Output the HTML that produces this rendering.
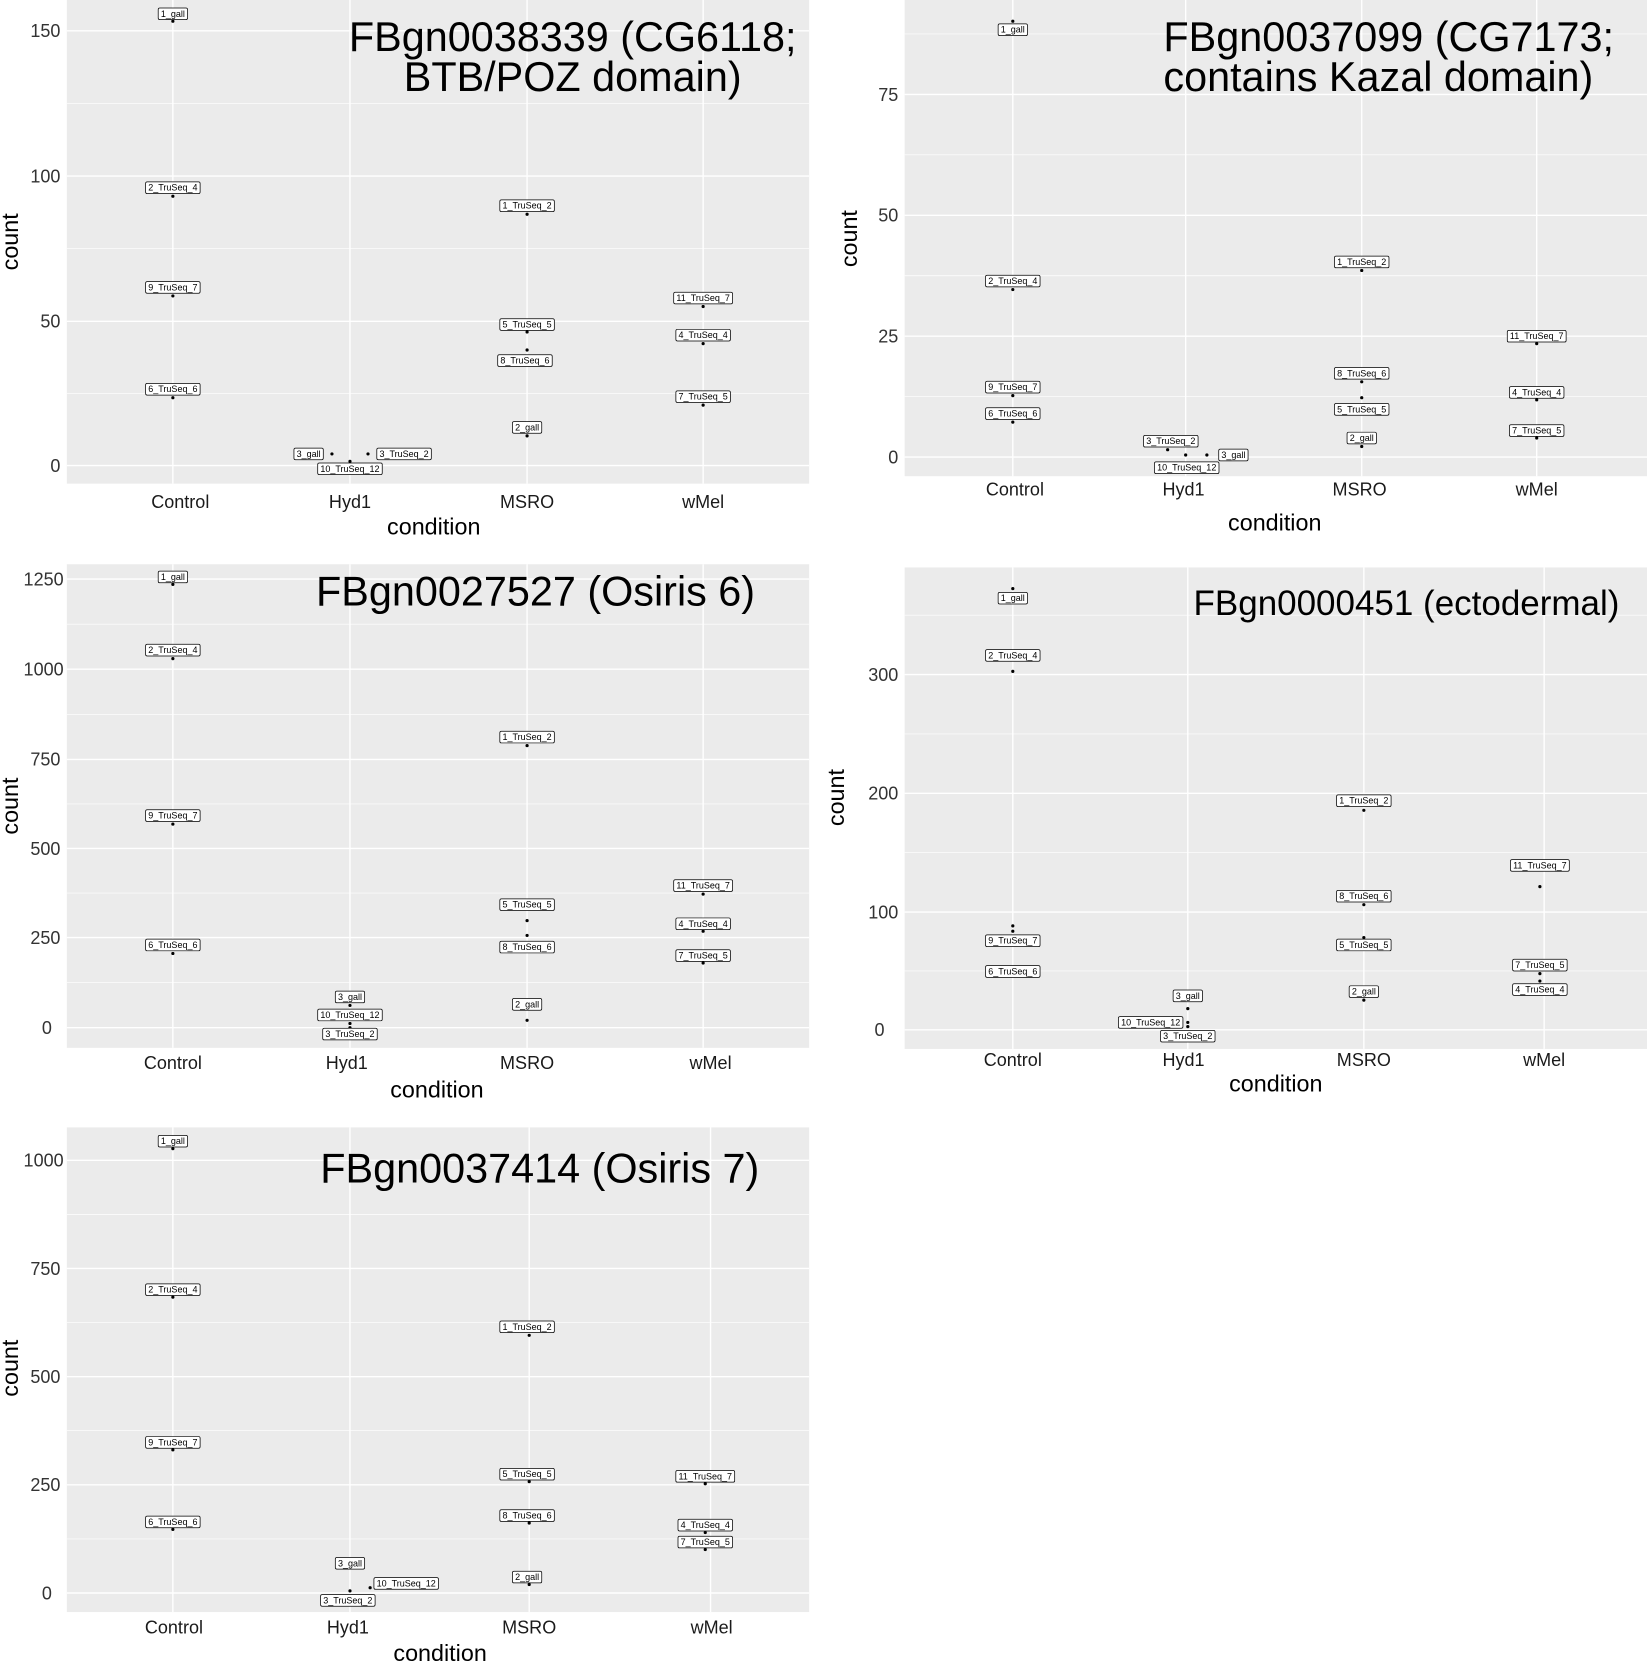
<!DOCTYPE html>
<html><head><meta charset="utf-8"><style>
html,body{margin:0;padding:0;background:#fff;}
svg{display:block;font-family:"Liberation Sans",Arial,sans-serif;}
.bg{fill:#ebebeb}
.mj{stroke:#fff;stroke-width:1.3}
.mn{stroke:#fff;stroke-width:0.6}
.tk{font-size:17px;fill:#333;text-anchor:end}
.tkx{font-size:17px;fill:#1a1a1a;text-anchor:middle}
.ax{font-size:22px;fill:#000;text-anchor:middle}
.ti{font-size:39px;fill:#000;text-anchor:end}
.lb{font-size:8.5px;fill:#000;text-anchor:middle;dominant-baseline:central}
.pt{fill:#000}
</style></head><body>
<svg id="s" width="1647" height="1663" viewBox="0 0 1553 1568" preserveAspectRatio="none">
<!-- Panel 1 -->
<rect class="bg" x="63" y="0" width="700" height="456"/>
<g class="mn"><line x1="63" x2="763" y1="97.5" y2="97.5"/><line x1="63" x2="763" y1="234.5" y2="234.5"/><line x1="63" x2="763" y1="371" y2="371"/></g>
<g class="mj"><line x1="63" x2="763" y1="29" y2="29"/><line x1="63" x2="763" y1="166" y2="166"/><line x1="63" x2="763" y1="303" y2="303"/><line x1="63" x2="763" y1="439" y2="439"/>
<line x1="163" x2="163" y1="0" y2="456"/><line x1="330" x2="330" y1="0" y2="456"/><line x1="497" x2="497" y1="0" y2="456"/><line x1="663" x2="663" y1="0" y2="456"/></g>
<text class="tk" x="57" y="35">150</text><text class="tk" x="57" y="172">100</text><text class="tk" x="57" y="309">50</text><text class="tk" x="57" y="445">0</text>
<text class="tkx" x="170" y="479">Control</text><text class="tkx" x="330" y="479">Hyd1</text><text class="tkx" x="497" y="479">MSRO</text><text class="tkx" x="663" y="479">wMel</text>
<text class="ax" x="409" y="504">condition</text>
<text class="ax" transform="translate(17,228) rotate(-90)">count</text>
<text class="ti" x="540" y="48" style="text-anchor:middle">FBgn0038339 (CG6118;</text><text class="ti" x="540" y="86" style="text-anchor:middle">BTB/POZ domain)</text>
<g class="pt"><circle cx="163" cy="20" r="1.5"/><circle cx="163" cy="185" r="1.5"/><circle cx="163" cy="279" r="1.5"/><circle cx="163" cy="375" r="1.5"/>
<circle cx="313" cy="428" r="1.5"/><circle cx="347" cy="428" r="1.5"/><circle cx="330" cy="435" r="1.5"/>
<circle cx="497" cy="202" r="1.5"/><circle cx="497" cy="313" r="1.5"/><circle cx="497" cy="330" r="1.5"/><circle cx="497" cy="411" r="1.5"/>
<circle cx="663" cy="289" r="1.5"/><circle cx="663" cy="324" r="1.5"/><circle cx="663" cy="382" r="1.5"/></g>
<text class="lb" x="163" y="13">1_gall</text><text class="lb" x="163" y="177">2_TruSeq_4</text><text class="lb" x="163" y="271">9_TruSeq_7</text><text class="lb" x="163" y="367">6_TruSeq_6</text>
<text class="lb" x="291" y="428">3_gall</text><text class="lb" x="381" y="428">3_TruSeq_2</text><text class="lb" x="330" y="442">10_TruSeq_12</text>
<text class="lb" x="497" y="194">1_TruSeq_2</text><text class="lb" x="497" y="306">5_TruSeq_5</text><text class="lb" x="495" y="340">8_TruSeq_6</text><text class="lb" x="497" y="403">2_gall</text>
<text class="lb" x="663" y="281">11_TruSeq_7</text><text class="lb" x="663" y="316">4_TruSeq_4</text><text class="lb" x="663" y="374">7_TruSeq_5</text>

<!-- Panel 2 -->
<rect class="bg" x="853" y="0" width="700" height="449"/>
<g class="mn"><line x1="853" x2="1553" y1="32" y2="32"/><line x1="853" x2="1553" y1="146" y2="146"/><line x1="853" x2="1553" y1="260" y2="260"/><line x1="853" x2="1553" y1="374" y2="374"/></g>
<g class="mj"><line x1="853" x2="1553" y1="89" y2="89"/><line x1="853" x2="1553" y1="203" y2="203"/><line x1="853" x2="1553" y1="317" y2="317"/><line x1="853" x2="1553" y1="431" y2="431"/>
<line x1="955" x2="955" y1="0" y2="449"/><line x1="1118" x2="1118" y1="0" y2="449"/><line x1="1284" x2="1284" y1="0" y2="449"/><line x1="1449" x2="1449" y1="0" y2="449"/></g>
<text class="tk" x="847" y="95">75</text><text class="tk" x="847" y="209">50</text><text class="tk" x="847" y="323">25</text><text class="tk" x="847" y="437">0</text>
<text class="tkx" x="957" y="467">Control</text><text class="tkx" x="1116" y="467">Hyd1</text><text class="tkx" x="1282" y="467">MSRO</text><text class="tkx" x="1449" y="467">wMel</text>
<text class="ax" x="1202" y="500">condition</text>
<text class="ax" transform="translate(808,225) rotate(-90)">count</text>
<text class="ti" x="1097" y="48" style="text-anchor:start">FBgn0037099 (CG7173;</text><text class="ti" x="1097" y="86" style="text-anchor:start">contains Kazal domain)</text>
<g class="pt"><circle cx="955" cy="20" r="1.5"/><circle cx="955" cy="273" r="1.5"/><circle cx="955" cy="373" r="1.5"/><circle cx="955" cy="398" r="1.5"/>
<circle cx="1101" cy="424" r="1.5"/><circle cx="1118" cy="429" r="1.5"/><circle cx="1138" cy="429" r="1.5"/>
<circle cx="1284" cy="255" r="1.5"/><circle cx="1284" cy="360" r="1.5"/><circle cx="1284" cy="375" r="1.5"/><circle cx="1284" cy="421" r="1.5"/>
<circle cx="1449" cy="324" r="1.5"/><circle cx="1449" cy="377" r="1.5"/><circle cx="1449" cy="413" r="1.5"/></g>
<text class="lb" x="955" y="28">1_gall</text><text class="lb" x="955" y="265">2_TruSeq_4</text><text class="lb" x="955" y="365">9_TruSeq_7</text><text class="lb" x="955" y="390">6_TruSeq_6</text>
<text class="lb" x="1104" y="416">3_TruSeq_2</text><text class="lb" x="1163" y="429">3_gall</text><text class="lb" x="1119" y="441">10_TruSeq_12</text>
<text class="lb" x="1284" y="247">1_TruSeq_2</text><text class="lb" x="1284" y="352">8_TruSeq_6</text><text class="lb" x="1284" y="386">5_TruSeq_5</text><text class="lb" x="1284" y="413">2_gall</text>
<text class="lb" x="1449" y="317">11_TruSeq_7</text><text class="lb" x="1449" y="370">4_TruSeq_4</text><text class="lb" x="1449" y="406">7_TruSeq_5</text>

<!-- Panel 3 -->
<rect class="bg" x="63" y="532" width="700" height="456"/>
<g class="mn"><line x1="63" x2="763" y1="588.5" y2="588.5"/><line x1="63" x2="763" y1="673.5" y2="673.5"/><line x1="63" x2="763" y1="758" y2="758"/><line x1="63" x2="763" y1="842" y2="842"/><line x1="63" x2="763" y1="926.5" y2="926.5"/></g>
<g class="mj"><line x1="63" x2="763" y1="546" y2="546"/><line x1="63" x2="763" y1="631" y2="631"/><line x1="63" x2="763" y1="716" y2="716"/><line x1="63" x2="763" y1="800" y2="800"/><line x1="63" x2="763" y1="884" y2="884"/><line x1="63" x2="763" y1="969" y2="969"/>
<line x1="163" x2="163" y1="532" y2="988"/><line x1="330" x2="330" y1="532" y2="988"/><line x1="497" x2="497" y1="532" y2="988"/><line x1="663" x2="663" y1="532" y2="988"/></g>
<text class="tk" x="60" y="552">1250</text><text class="tk" x="60" y="637">1000</text><text class="tk" x="57" y="722">750</text><text class="tk" x="57" y="806">500</text><text class="tk" x="57" y="890">250</text><text class="tk" x="49" y="975">0</text>
<text class="tkx" x="163" y="1008">Control</text><text class="tkx" x="327" y="1008">Hyd1</text><text class="tkx" x="497" y="1008">MSRO</text><text class="tkx" x="670" y="1008">wMel</text>
<text class="ax" x="412" y="1035">condition</text>
<text class="ax" transform="translate(17,760) rotate(-90)">count</text>
<text class="ti" x="712" y="571">FBgn0027527 (Osiris 6)</text>
<g class="pt"><circle cx="163" cy="551" r="1.5"/><circle cx="163" cy="621" r="1.5"/><circle cx="163" cy="777" r="1.5"/><circle cx="163" cy="899" r="1.5"/>
<circle cx="330" cy="948" r="1.5"/><circle cx="330" cy="965" r="1.5"/><circle cx="330" cy="969" r="1.5"/>
<circle cx="497" cy="703" r="1.5"/><circle cx="497" cy="868" r="1.5"/><circle cx="497" cy="882" r="1.5"/><circle cx="497" cy="962" r="1.5"/>
<circle cx="663" cy="843" r="1.5"/><circle cx="663" cy="878" r="1.5"/><circle cx="663" cy="908" r="1.5"/></g>
<text class="lb" x="163" y="544">1_gall</text><text class="lb" x="163" y="613">2_TruSeq_4</text><text class="lb" x="163" y="769">9_TruSeq_7</text><text class="lb" x="163" y="891">6_TruSeq_6</text>
<text class="lb" x="330" y="940">3_gall</text><text class="lb" x="330" y="957">10_TruSeq_12</text><text class="lb" x="330" y="975">3_TruSeq_2</text>
<text class="lb" x="497" y="695">1_TruSeq_2</text><text class="lb" x="497" y="853">5_TruSeq_5</text><text class="lb" x="497" y="893">8_TruSeq_6</text><text class="lb" x="497" y="947">2_gall</text>
<text class="lb" x="663" y="835">11_TruSeq_7</text><text class="lb" x="663" y="871">4_TruSeq_4</text><text class="lb" x="663" y="901">7_TruSeq_5</text>

<!-- Panel 4 -->
<rect class="bg" x="853" y="535" width="700" height="454"/>
<g class="mn"><line x1="853" x2="1553" y1="580" y2="580"/><line x1="853" x2="1553" y1="692" y2="692"/><line x1="853" x2="1553" y1="804" y2="804"/><line x1="853" x2="1553" y1="915.5" y2="915.5"/></g>
<g class="mj"><line x1="853" x2="1553" y1="636" y2="636"/><line x1="853" x2="1553" y1="748" y2="748"/><line x1="853" x2="1553" y1="860" y2="860"/><line x1="853" x2="1553" y1="971" y2="971"/>
<line x1="955" x2="955" y1="535" y2="989"/><line x1="1120" x2="1120" y1="535" y2="989"/><line x1="1286" x2="1286" y1="535" y2="989"/><line x1="1456" x2="1456" y1="535" y2="989"/></g>
<text class="tk" x="847" y="642">300</text><text class="tk" x="847" y="754">200</text><text class="tk" x="847" y="866">100</text><text class="tk" x="834" y="977">0</text>
<text class="tkx" x="955" y="1005">Control</text><text class="tkx" x="1116" y="1005">Hyd1</text><text class="tkx" x="1286" y="1005">MSRO</text><text class="tkx" x="1456" y="1005">wMel</text>
<text class="ax" x="1203" y="1029">condition</text>
<text class="ax" transform="translate(796,752) rotate(-90)">count</text>
<text class="ti" x="1527" y="580" style="font-size:33px">FBgn0000451 (ectodermal)</text>
<g class="pt"><circle cx="955" cy="555" r="1.5"/><circle cx="955" cy="633" r="1.5"/><circle cx="955" cy="873" r="1.5"/><circle cx="955" cy="878" r="1.5"/>
<circle cx="1120" cy="951" r="1.5"/><circle cx="1120" cy="964" r="1.5"/><circle cx="1120" cy="968" r="1.5"/>
<circle cx="1286" cy="764" r="1.5"/><circle cx="1286" cy="853" r="1.5"/><circle cx="1286" cy="884" r="1.5"/><circle cx="1286" cy="943" r="1.5"/>
<circle cx="1452" cy="836" r="1.5"/><circle cx="1452" cy="918" r="1.5"/><circle cx="1452" cy="925" r="1.5"/></g>
<text class="lb" x="955" y="564">1_gall</text><text class="lb" x="955" y="618">2_TruSeq_4</text><text class="lb" x="955" y="887">9_TruSeq_7</text><text class="lb" x="955" y="916">6_TruSeq_6</text>
<text class="lb" x="1120" y="939">3_gall</text><text class="lb" x="1085" y="964">10_TruSeq_12</text><text class="lb" x="1120" y="977">3_TruSeq_2</text>
<text class="lb" x="1286" y="755">1_TruSeq_2</text><text class="lb" x="1286" y="845">8_TruSeq_6</text><text class="lb" x="1286" y="891">5_TruSeq_5</text><text class="lb" x="1286" y="935">2_gall</text>
<text class="lb" x="1452" y="816">11_TruSeq_7</text><text class="lb" x="1452" y="910">7_TruSeq_5</text><text class="lb" x="1452" y="933">4_TruSeq_4</text>

<!-- Panel 5 -->
<rect class="bg" x="63" y="1063" width="700" height="457"/>
<g class="mn"><line x1="63" x2="763" y1="1145" y2="1145"/><line x1="63" x2="763" y1="1247" y2="1247"/><line x1="63" x2="763" y1="1349" y2="1349"/><line x1="63" x2="763" y1="1451" y2="1451"/></g>
<g class="mj"><line x1="63" x2="763" y1="1094" y2="1094"/><line x1="63" x2="763" y1="1196" y2="1196"/><line x1="63" x2="763" y1="1298" y2="1298"/><line x1="63" x2="763" y1="1400" y2="1400"/><line x1="63" x2="763" y1="1502" y2="1502"/>
<line x1="163" x2="163" y1="1063" y2="1520"/><line x1="330" x2="330" y1="1063" y2="1520"/><line x1="499" x2="499" y1="1063" y2="1520"/><line x1="670" x2="670" y1="1063" y2="1520"/></g>
<text class="tk" x="60" y="1100">1000</text><text class="tk" x="57" y="1202">750</text><text class="tk" x="57" y="1304">500</text><text class="tk" x="57" y="1406">250</text><text class="tk" x="49" y="1508">0</text>
<text class="tkx" x="164" y="1540">Control</text><text class="tkx" x="328" y="1540">Hyd1</text><text class="tkx" x="499" y="1540">MSRO</text><text class="tkx" x="671" y="1540">wMel</text>
<text class="ax" x="415" y="1566">condition</text>
<text class="ax" transform="translate(17,1290) rotate(-90)">count</text>
<text class="ti" x="716" y="1115">FBgn0037414 (Osiris 7)</text>
<g class="pt"><circle cx="163" cy="1083" r="1.5"/><circle cx="163" cy="1223" r="1.5"/><circle cx="163" cy="1367" r="1.5"/><circle cx="163" cy="1442" r="1.5"/>
<circle cx="330" cy="1500" r="1.5"/><circle cx="349" cy="1497" r="1.5"/>
<circle cx="499" cy="1259" r="1.5"/><circle cx="499" cy="1397" r="1.5"/><circle cx="499" cy="1436" r="1.5"/><circle cx="499" cy="1494" r="1.5"/>
<circle cx="665" cy="1399" r="1.5"/><circle cx="665" cy="1445" r="1.5"/><circle cx="665" cy="1461" r="1.5"/></g>
<text class="lb" x="163" y="1076">1_gall</text><text class="lb" x="163" y="1216">2_TruSeq_4</text><text class="lb" x="163" y="1360">9_TruSeq_7</text><text class="lb" x="163" y="1435">6_TruSeq_6</text>
<text class="lb" x="330" y="1474">3_gall</text><text class="lb" x="328" y="1509">3_TruSeq_2</text><text class="lb" x="383" y="1493">10_TruSeq_12</text>
<text class="lb" x="497" y="1251">1_TruSeq_2</text><text class="lb" x="497" y="1390">5_TruSeq_5</text><text class="lb" x="497" y="1429">8_TruSeq_6</text><text class="lb" x="497" y="1487">2_gall</text>
<text class="lb" x="665" y="1392">11_TruSeq_7</text><text class="lb" x="665" y="1438">4_TruSeq_4</text><text class="lb" x="665" y="1454">7_TruSeq_5</text>
</svg>
<script>
(function(){
var s=document.getElementById('s'),ns='http://www.w3.org/2000/svg';
var ls=s.querySelectorAll('text.lb');
for(var i=0;i<ls.length;i++){var t=ls[i],b=t.getBBox();
var r=document.createElementNS(ns,'rect');
r.setAttribute('x',b.x-2.5);r.setAttribute('y',+t.getAttribute('y')-5.5);
r.setAttribute('width',b.width+5);r.setAttribute('height',11);
r.setAttribute('rx',1.5);r.setAttribute('fill','#fff');r.setAttribute('stroke','#000');r.setAttribute('stroke-width','0.7');
t.parentNode.insertBefore(r,t);}
})();
</script>
</body></html>
